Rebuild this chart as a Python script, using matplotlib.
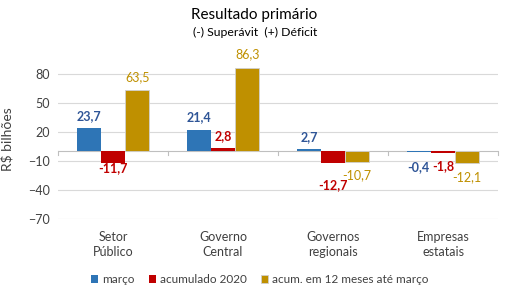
import numpy as np
import matplotlib
matplotlib.use('Agg')
from matplotlib import pyplot as plt

plt.rcParams['font.family'] = ['Lato', 'DejaVu Sans']

categorias = ['Setor\nPúblico', 'Governo\nCentral', 'Governos\nregionais', 'Empresas\nestatais']
marco = [23.7, 21.4, 2.7, -0.4]
acum_2020 = [-11.7, 2.8, -12.7, -1.8]
acum_12m = [63.5, 86.3, -10.7, -12.1]
series_nomes = ['março', 'acumulado 2020', 'acum. em 12 meses até março']

cores = ['#2E75B6', '#C00000', '#BF9000']
cores_rotulo = ['#2F5597', '#C00000', '#BF9000']
pesos = ['bold', 'bold', 'normal']
# deslocamento vertical dos rótulos (pixels, a partir da ponta da barra)
desloc = [[12, 13, 12, 15],
          [6, 12, 22, 13],
          [13, 13, 14, 14]]

fig = plt.figure(figsize=(5.14, 2.99), dpi=100)
ax = fig.add_axes([0.1128, 0.2676, 0.8562, 0.5344])

x = np.arange(len(categorias))
w = 0.22
for i, vals in enumerate([marco, acum_2020, acum_12m]):
    edge = '#D0D0D0' if i == 2 else 'none'
    ax.bar(x + (i - 1) * w, vals, width=w, color=cores[i], edgecolor=edge,
           linewidth=0.6, label=series_nomes[i], zorder=3)
    for j, v in enumerate(vals):
        d = desloc[i][j] * 0.72
        ax.annotate(f'{v:.1f}'.replace('.', ','), (x[j] + (i - 1) * w, v),
                    xytext=(0, d if v >= 0 else -d),
                    textcoords='offset points', ha='center', va='center',
                    color=cores_rotulo[i], fontsize=9, fontweight=pesos[i])

ax.set_xlim(-0.5, 3.5)
ax.set_ylim(-70, 95)
ax.set_yticks([-70, -40, -10, 20, 50, 80])
ax.yaxis.grid(True, color='#D9D9D9', linewidth=0.8, zorder=0)
ax.set_axisbelow(True)
for s in ax.spines.values():
    s.set_visible(False)
ax.axhline(0, color='#BFBFBF', linewidth=0.8, zorder=2)
for b in np.arange(-0.5, 4.0, 1.0):
    ax.plot([b, b], [0, -4], color='#BFBFBF', linewidth=0.8, zorder=2, clip_on=False)
ax.tick_params(axis='y', length=0, labelsize=9, labelcolor='#404040', pad=6)
ax.set_xticks(x)
ax.set_xticklabels(categorias, fontsize=9, color='#404040', linespacing=1.3)
ax.tick_params(axis='x', length=0, pad=9)
ax.set_ylabel('R$ bilhões', fontsize=10, color='#404040', labelpad=10)

fig.text(0.494, 0.95, 'Resultado primário', ha='center', va='center', fontsize=11, color='#000000')
fig.text(0.496, 0.893, '(-) Superávit  (+) Déficit', ha='center', va='center', fontsize=8.8, color='#000000')

ax.legend(loc='center', bbox_to_anchor=(0.505, 0.065), bbox_transform=fig.transFigure,
          ncol=3, frameon=False, fontsize=8.5, handlelength=0.65, handleheight=0.65,
          handletextpad=0.3, columnspacing=1.2, labelcolor='#404040')

fig.savefig('out.png', dpi=100)
